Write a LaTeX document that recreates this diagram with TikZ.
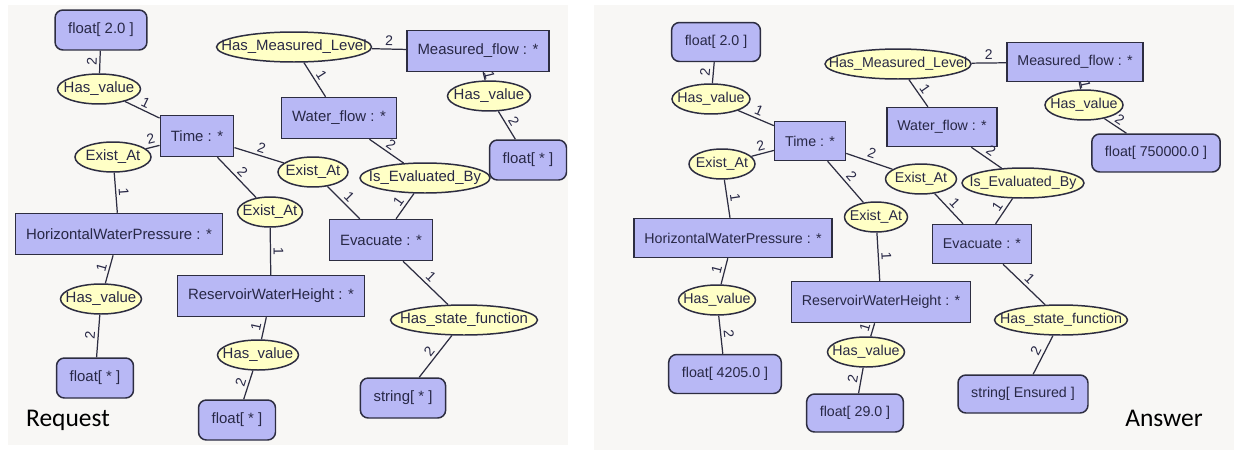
\documentclass[tikz,border=0pt]{standalone}
\usepackage{fontspec}
\setmainfont{Liberation Sans}
\newfontfamily\titlefont{Carlito}
\usepackage{tikz}
\usetikzlibrary{shapes.geometric}

\definecolor{panelc}{RGB}{248,247,245}
\definecolor{conceptc}{RGB}{184,184,245}
\definecolor{relc}{RGB}{255,255,198}
\definecolor{linec}{RGB}{45,45,65}
\definecolor{textc}{RGB}{40,40,70}

\begin{document}
\begin{tikzpicture}[x=0.02cm,y=-0.02cm,line width=0.7pt,
    nodes={font=\fontsize{8.5}{10}\selectfont,text=textc},
    every edge/.style={draw=linec,line width=0.7pt},
    concept/.style={rectangle,draw=linec,fill=conceptc,line width=0.85pt,
                    inner xsep=6pt,minimum height=0.82cm},
    literal/.style={concept,rounded corners=4.5pt,inner xsep=7.5pt,minimum height=0.8cm},
    relation/.style={ellipse,draw=linec,fill=relc,line width=0.85pt,inner sep=0pt,
                     minimum height=0.6cm,
                     execute at begin node=\hbox to 0pt\bgroup\hss,
                     execute at end node=\hss\egroup},
    lbl/.style={font=\fontsize{8}{9}\selectfont,text=textc,sloped,above,inner sep=1.5pt}]
  \useasboundingbox (0,0) rectangle (1234,450);
  \fill[panelc] (8,5) rectangle (568,445);
  \fill[panelc] (594,5) rectangle (1234,450);

  % Request
  \node[literal] (rFloatA) at (101,30) {float[ 2.0 ]};
  \node[relation,minimum width=1.66cm] (rHvA) at (99,89) {Has\_value};
  \node[concept] (rTime) at (197,136) {Time : *};
  \node[relation,minimum width=3.1cm] (rHml) at (294,47) {Has\_Measured\_Level};
  \node[concept] (rMflow) at (478,51) {Measured\_flow : *};
  \node[relation,minimum width=1.66cm] (rHvB) at (489,96) {Has\_value};
  \node[literal] (rFloatB) at (528,160) {float[ * ]};
  \node[concept] (rWflow) at (339,118) {Water\_flow : *};
  \node[relation,minimum width=1.52cm] (rExA) at (113,157) {Exist\_At};
  \node[relation,minimum width=1.4cm] (rExB) at (313,172) {Exist\_At};
  \node[relation,minimum width=1.3cm] (rExC) at (270,212) {Exist\_At};
  \node[relation,minimum width=2.6cm] (rIeb) at (425,178) {Is\_Evaluated\_By};
  \node[concept] (rEvac) at (381,240) {Evacuate : *};
  \node[concept] (rHwp) at (119,234) {HorizontalWaterPressure : *};
  \node[relation,minimum width=1.62cm] (rHvC) at (101,299) {Has\_value};
  \node[concept] (rRwh) at (271,296) {ReservoirWaterHeight : *};
  \node[relation,minimum width=1.62cm] (rHvD) at (258,355) {Has\_value};
  \node[relation,minimum width=2.94cm] (rHsf) at (464,320) {Has\_state\_function};
  \node[literal] (rFloatC) at (95,378) {float[ * ]};
  \node[literal] (rFloatD) at (237,420) {float[ * ]};
  \node[literal] (rStr) at (403,398) {string[ * ]};
  \node[font=\titlefont\fontsize{14.5}{16}\selectfont,text=black] (rTitle) at (68,420) {Request};

  \path[every node/.style=lbl]
    (rFloatA) edge node {2} (rHvA)
    (rHvA)    edge node {1} (rTime)
    (rExA)    edge node {2} (rTime)
              edge node {1} (rHwp)
    (rTime)   edge node {2} (rExB)
              edge node {2} (rExC)
    (rHml)    edge node {2} (rMflow)
              edge node {1} (rWflow)
    (rMflow)  edge node[inner sep=0pt] {1} (rHvB)
    (rHvB)    edge node {2} (rFloatB)
    (rWflow)  edge node {2} (rIeb)
    (rExB)    edge node {1} (rEvac)
    (rIeb)    edge node {1} (rEvac)
    (rExC)    edge node {1} (rRwh)
    (rHwp)    edge node {1} (rHvC)
    (rHvC)    edge node {2} (rFloatC)
    (rRwh)    edge node {1} (rHvD)
    (rHvD)    edge node {2} (rFloatD)
    (rEvac)   edge node {1} (rHsf)
    (rHsf)    edge node {2} (rStr)
    ;

  % Answer
  \begin{scope}[nodes={font=\fontsize{8.1}{10}\selectfont,text=textc}]
  \node[literal,minimum height=0.78cm] (aFloatA) at (716,42) {float[ 2.0 ]};
  \node[relation,minimum width=1.56cm] (aHvA) at (711,99) {Has\_value};
  \node[concept,minimum height=0.78cm] (aTime) at (810,141) {Time : *};
  \node[relation,minimum width=2.92cm] (aHml) at (898,64) {Has\_Measured\_Level};
  \node[concept,minimum height=0.78cm] (aMflow) at (1075,62) {Measured\_flow : *};
  \node[relation,minimum width=1.56cm] (aHvB) at (1084,105) {Has\_value};
  \node[literal,minimum height=0.76cm] (aFloatB) at (1156,153) {float[ 750000.0 ]};
  \node[concept,minimum height=0.78cm] (aWflow) at (942,127) {Water\_flow : *};
  \node[relation,minimum width=1.32cm] (aExA) at (722,164) {Exist\_At};
  \node[relation,minimum width=1.42cm] (aExB) at (921,179) {Exist\_At};
  \node[relation,minimum width=1.26cm] (aExC) at (876,217) {Exist\_At};
  \node[relation,minimum width=2.44cm] (aIeb) at (1023,183) {Is\_Evaluated\_By};
  \node[concept,minimum height=0.78cm] (aEvac) at (982,244) {Evacuate : *};
  \node[concept,minimum height=0.78cm] (aHwp) at (733,238) {HorizontalWaterPressure : *};
  \node[relation,minimum width=1.54cm] (aHvC) at (717,300) {Has\_value};
  \node[concept] (aRwh) at (881,302) {ReservoirWaterHeight : *};
  \node[relation,minimum width=1.54cm] (aHvD) at (866,352) {Has\_value};
  \node[relation,minimum width=2.66cm] (aHsf) at (1061,320) {Has\_state\_function};
  \node[literal,minimum height=0.78cm] (aFloatC) at (725,374) {float[ 4205.0 ]};
  \node[literal,minimum height=0.76cm] (aFloatD) at (855,413) {float[ 29.0 ]};
  \node[literal,minimum height=0.76cm] (aStr) at (1023,394) {string[ Ensured ]};
  \node[font=\titlefont\fontsize{14.5}{16}\selectfont,text=black] (aTitle) at (1164,418) {Answer};
  \end{scope}

  \path[every node/.style=lbl]
    (aFloatA) edge node {2} (aHvA)
    (aHvA)    edge node {1} (aTime)
    (aExA)    edge node {2} (aTime)
              edge node {1} (aHwp)
    (aTime)   edge node {2} (aExB)
              edge node {2} (aExC)
    (aHml)    edge node {2} (aMflow)
              edge node {1} (aWflow)
    (aMflow)  edge node[inner sep=0pt] {1} (aHvB)
    (aHvB)    edge node {2} (aFloatB)
    (aWflow)  edge node {2} (aIeb)
    (aExB)    edge node {1} (aEvac)
    (aIeb)    edge node {1} (aEvac)
    (aExC)    edge node {1} (aRwh)
    (aHwp)    edge node {1} (aHvC)
    (aHvC)    edge node {2} (aFloatC)
    (aRwh)    edge node {1} (aHvD)
    (aHvD)    edge node {2} (aFloatD)
    (aEvac)   edge node {1} (aHsf)
    (aHsf)    edge node {2} (aStr)
    ;
\end{tikzpicture}
\end{document}
